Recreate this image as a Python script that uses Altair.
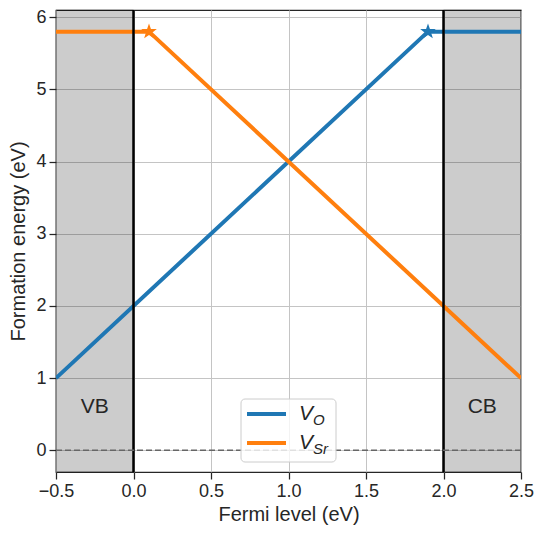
import altair as alt
import pandas as pd
import math

# ---- data ----
fermi_vo = [-0.5, 1.9, 2.5]
energy_vo = [1.0, 5.8, 5.8]
fermi_vsr = [-0.5, 0.1, 2.5]
energy_vsr = [5.8, 5.8, 1.0]
star_x = [1.9, 0.1]
star_y = [5.8, 5.8]
series = ["V_O", "V_Sr"]
colors = ["#1f77b4", "#ff7f0e"]
band_start = [-0.5, 2.0]
band_end = [0.0, 2.5]
band_labels = ["VB", "CB"]
band_label_x = [-0.25, 2.25]
band_label_y = [0.6, 0.6]
edge_x = [0.0, 2.0]
x_ticks = [-0.5, 0.0, 0.5, 1.0, 1.5, 2.0, 2.5]
y_ticks = [0, 1, 2, 3, 4, 5, 6]

XD = [-0.5, 2.5]
YD = [-0.3, 6.1]
FONT = "Liberation Sans"

lines_df = pd.DataFrame({
    "x": fermi_vo + fermi_vsr,
    "y": energy_vo + energy_vsr,
    "s": [series[0]] * 3 + [series[1]] * 3,
})
stars_df = pd.DataFrame({"x": star_x, "y": star_y, "s": series})
bands_df = pd.DataFrame({"x": band_start, "x2": band_end})
labels_df = pd.DataFrame({"x": band_label_x, "y": band_label_y, "t": band_labels})
edges_df = pd.DataFrame({"x": edge_x})
zero_df = pd.DataFrame({"y": [0.0]})

xs = alt.Scale(domain=XD, nice=False, zero=False)
ys = alt.Scale(domain=YD, nice=False, zero=False)
color = alt.Color("s:N", scale=alt.Scale(domain=series, range=colors), legend=None)

xaxis = alt.Axis(values=x_ticks, format=".1f", labelExpr="replace(datum.label, '-', '\u2212')",
                 title="Fermi level (eV)", grid=True, labelFlush=False)
yaxis = alt.Axis(values=y_ticks, format="d", title="Formation energy (eV)", grid=True,
                 labelFlush=False)

bands = alt.Chart(bands_df).mark_rect(fill="black", fillOpacity=0.2, stroke="black",
                                      strokeOpacity=0.25, strokeWidth=1).encode(
    x=alt.X("x:Q", scale=xs, axis=xaxis), x2="x2:Q",
    y=alt.value(0), y2=alt.value(462))

base_lines = alt.Chart(lines_df).mark_line(strokeWidth=4, clip=True).encode(
    x=alt.X("x:Q", scale=xs), y=alt.Y("y:Q", scale=ys, axis=yaxis), color=color, detail="s:N")

edges = alt.Chart(edges_df).mark_rule(color="black", strokeWidth=2.5).encode(
    x=alt.X("x:Q", scale=xs))

zero = alt.Chart(zero_df).mark_rule(color="#666666", strokeWidth=1.5, strokeDash=[6, 3]).encode(
    y=alt.Y("y:Q", scale=ys))

# star path
pts = []
for i in range(10):
    a = math.radians(-90 + 36 * i)
    r = 1.0 if i % 2 == 0 else 0.4
    pts.append(f"{r*math.cos(a):.3f},{r*math.sin(a):.3f}")
star_path = "M" + " L".join(pts) + " Z"

stars = alt.Chart(stars_df).mark_point(shape=star_path, size=270, filled=True, opacity=1).encode(
    x=alt.X("x:Q", scale=xs), y=alt.Y("y:Q", scale=ys), color=color)

band_text = alt.Chart(labels_df).mark_text(fontSize=21, font=FONT, color="#262626",
                                           baseline="middle").encode(
    x=alt.X("x:Q", scale=xs), y=alt.Y("y:Q", scale=ys), text="t:N")

# custom legend (pixel positions inside plot area)
leg_box = alt.Chart(pd.DataFrame({"a": [0]})).mark_rect(
    fill="white", fillOpacity=0.8, stroke="#cccccc", strokeWidth=1, cornerRadius=4).encode(
    x=alt.value(185), x2=alt.value(280), y=alt.value(389), y2=alt.value(452))

leg_df = pd.DataFrame({"s": series, "ly": [404, 433], "main": ["V", "V"], "sub": ["O", "Sr"]})
leg_lines = alt.Chart(leg_df).mark_rule(strokeWidth=4).encode(
    x=alt.value(191), x2=alt.value(230), y=alt.Y("ly:Q", scale=None), color=color)
leg_main = alt.Chart(leg_df).mark_text(fontSize=21, font=FONT, fontStyle="italic", align="left",
                                       baseline="middle", color="#262626").encode(
    x=alt.value(243), y=alt.Y("ly:Q", scale=None), text="main:N")
leg_sub = alt.Chart(leg_df).mark_text(fontSize=15, font=FONT, fontStyle="italic", align="left",
                                      baseline="middle", dy=6, color="#262626").encode(
    x=alt.value(257), y=alt.Y("ly:Q", scale=None), text="sub:N")

chart = alt.layer(bands, base_lines, edges, zero, stars, band_text,
                  leg_box, leg_lines, leg_main, leg_sub).properties(
    width=465, height=462,
    autosize=alt.AutoSizeParams(type="none"),
    padding={"left": 48, "top": 2, "right": 15, "bottom": 56},
).configure_view(stroke="#262626", strokeWidth=1.25).configure_axis(
    domain=False, gridColor="#c4c4c4", gridWidth=1, tickColor="#262626", tickSize=7,
    tickWidth=1.25, labelFontSize=18, labelFont=FONT, labelColor="#262626", labelPadding=3,
    titleFontSize=20, titleFont=FONT, titleFontWeight="normal", titleColor="#262626",
).configure_axisX(titlePadding=4).configure_axisY(titlePadding=7)

chart.save("out.html", embed_options={"renderer": "svg", "actions": False})
